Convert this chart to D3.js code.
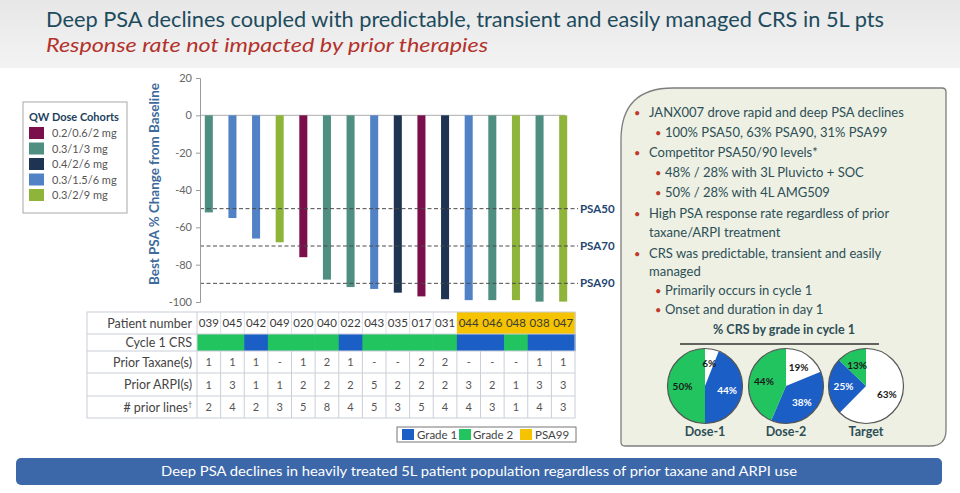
<!DOCTYPE html>
<html><head><meta charset="utf-8">
<script src="https://cdn.jsdelivr.net/npm/d3@7"></script>
<style>
html,body{margin:0;padding:0;background:#fff;}
svg{display:block;font-family:Lato,"Open Sans",sans-serif;}
</style></head>
<body>
<svg id="c" width="960" height="493"></svg>
<script>
// ---------- DATA ----------
const titleText = "Deep PSA declines coupled with predictable, transient and easily managed CRS in 5L pts";
const subtitleText = "Response rate not impacted by prior therapies";
const bannerText = "Deep PSA declines in heavily treated 5L patient population regardless of prior taxane and ARPI use";

const patients = ["039","045","042","049","020","040","022","043","035","017","031","044","046","048","038","047"];
const psaChange = [-52,-55,-66,-68,-76,-88,-92,-93,-95,-97,-98.5,-99,-99,-99,-99.8,-99.8];
const patientCohort = ["0.3/1/3 mg","0.3/1.5/6 mg","0.3/1.5/6 mg","0.3/2/9 mg","0.2/0.6/2 mg","0.3/1/3 mg","0.3/1/3 mg","0.3/1.5/6 mg","0.4/2/6 mg","0.2/0.6/2 mg","0.4/2/6 mg","0.3/1.5/6 mg","0.3/1/3 mg","0.3/2/9 mg","0.3/1/3 mg","0.3/2/9 mg"];
const cohorts = ["0.2/0.6/2 mg","0.3/1/3 mg","0.4/2/6 mg","0.3/1.5/6 mg","0.3/2/9 mg"];
const cohortColors = ["#7a0f4b","#4f8f82","#1f3452","#5282c6","#8eb43a"];
const cycle1CRS = ["Grade 2","Grade 2","Grade 1","Grade 2","Grade 2","Grade 2","Grade 1","Grade 2","Grade 2","Grade 2","Grade 2","Grade 1","Grade 1","Grade 2","Grade 1","Grade 1"];
const psa99 = [false,false,false,false,false,false,false,false,false,false,false,true,true,true,true,true];
const priorTaxane = ["1","1","1","-","1","2","1","-","-","2","2","-","-","-","1","1"];
const priorARPI = ["1","3","1","1","2","2","2","5","2","2","2","3","2","1","3","3"];
const priorLines = ["2","4","2","3","5","8","4","5","3","5","4","4","3","1","4","3"];
const rowLabels = ["Patient number","Cycle 1 CRS","Prior Taxane(s)","Prior ARPI(s)","# prior lines"];
const yTicks = [20,0,-20,-40,-60,-80,-100];
const thresholds = [-50,-70,-90];
const thresholdLabels = ["PSA50","PSA70","PSA90"];
const tableLegend = ["Grade 1","Grade 2","PSA99"];
const tableLegendColors = ["#1b5ec6","#22c460","#f5c300"];

const bullets = [
  {lvl:1, t:"JANX007 drove rapid and deep PSA declines"},
  {lvl:2, t:"100% PSA50, 63% PSA90, 31% PSA99"},
  {lvl:1, t:"Competitor PSA50/90 levels*"},
  {lvl:2, t:"48% / 28% with 3L Pluvicto + SOC"},
  {lvl:2, t:"50% / 28% with 4L AMG509"},
  {lvl:1, t:"High PSA response rate regardless of prior"},
  {lvl:0, t:"taxane/ARPI treatment"},
  {lvl:1, t:"CRS was predictable, transient and easily"},
  {lvl:0, t:"managed"},
  {lvl:2, t:"Primarily occurs in cycle 1"},
  {lvl:2, t:"Onset and duration in day 1"}
];
const bulletY = [112,132,152,172,192,213,232,253,271,290,309];
const pieTitle = "% CRS by grade in cycle 1";
const pieNames = ["Dose-1","Dose-2","Target"];
const pieNone = [6,19,63];
const pieGrade1 = [44,38,25];
const pieGrade2 = [50,44,13];

// ---------- DRAW ----------
const svg = d3.select("#c");
const defs = svg.append("defs");
const hg = defs.append("linearGradient").attr("id","hg").attr("x1",0).attr("y1",0).attr("x2",0).attr("y2",1);
hg.append("stop").attr("offset","0%").attr("stop-color","#e7e7e7");
hg.append("stop").attr("offset","100%").attr("stop-color","#f3f3f3");

svg.append("rect").attr("x",0).attr("y",0).attr("width",960).attr("height",68).attr("fill","url(#hg)");
svg.append("text").attr("x",46).attr("y",27).attr("font-size",22).attr("fill","#1d4b5e")
  .attr("textLength",838).attr("lengthAdjust","spacingAndGlyphs").text(titleText);
svg.append("text").attr("x",46).attr("y",52).attr("font-size",19).attr("font-style","italic").attr("fill","#b3322b")
  .attr("textLength",442).attr("lengthAdjust","spacingAndGlyphs").text(subtitleText);

// Scales
const x = d3.scaleBand().domain(patients).range([197,575]).paddingInner(0.66).paddingOuter(0.33);
const xc = d3.scaleBand().domain(patients).range([197,575]).padding(0);
const y = d3.scaleLinear().domain([-100,20]).range([302,78]);
const cohortColor = d3.scaleOrdinal().domain(cohorts).range(cohortColors);

// zero line
svg.append("line").attr("x1",200).attr("x2",565).attr("y1",y(0)).attr("y2",y(0)).attr("stroke","#bdbdbd").attr("stroke-width",1.2);

// bars
svg.append("g").selectAll("rect").data(patients).join("rect")
  .attr("x",d=>x(d)).attr("width",x.bandwidth())
  .attr("y",y(0)).attr("height",(d,i)=>y(psaChange[i])-y(0))
  .attr("fill",(d,i)=>cohortColor(patientCohort[i]));

// threshold lines
thresholds.forEach((t,i)=>{
  svg.append("line").attr("x1",200).attr("x2",578).attr("y1",y(t)).attr("y2",y(t))
    .attr("stroke","#4a4a4a").attr("stroke-width",1).attr("stroke-dasharray","4,2.5");
  svg.append("text").attr("x",580).attr("y",y(t)+4).attr("font-size",11.5).attr("font-weight","bold")
    .attr("fill","#24456f").text(thresholdLabels[i]);
});

// y axis
const ya = svg.append("g").attr("transform","translate(200,0)")
  .call(d3.axisLeft(y).tickValues(yTicks).tickSize(4).tickPadding(4).tickFormat(d=>String(d)));
ya.select(".domain").attr("stroke","#9a9a9a");
ya.selectAll(".tick line").attr("stroke","#9a9a9a");
ya.selectAll(".tick text").attr("fill","#666").attr("font-size",11).attr("font-family","Lato,sans-serif");
svg.append("text").attr("transform","translate(159,184) rotate(-90)").attr("text-anchor","middle")
  .attr("font-size",13).attr("font-weight","bold").attr("fill","#3e6b9c")
  .attr("textLength",202).attr("lengthAdjust","spacingAndGlyphs").text("Best PSA % Change from Baseline");

// cohort legend
const lg = svg.append("g");
lg.append("rect").attr("x",23).attr("y",102).attr("width",104).attr("height",111).attr("fill","#fff").attr("stroke","#a8a8a8");
lg.append("text").attr("x",29).attr("y",121).attr("font-size",11).attr("font-weight","bold").attr("fill","#1d3f5e").text("QW Dose Cohorts");
cohorts.forEach((c,i)=>{
  lg.append("rect").attr("x",29).attr("y",127+i*15.5).attr("width",15).attr("height",12).attr("fill",cohortColors[i]);
  lg.append("text").attr("x",52).attr("y",137+i*15.5).attr("font-size",11).attr("fill","#555").text(c);
});

// table
const rowTop = [312,334,351,373,396];
const rowBot = [334,351,373,396,418];
const tg = svg.append("g");
tg.selectAll(".hy").data(patients.filter((d,i)=>psa99[i])).join("rect").attr("class","hy")
  .attr("x",d=>xc(d)).attr("width",xc.bandwidth()+0.6).attr("y",rowTop[0]).attr("height",rowBot[0]-rowTop[0]).attr("fill","#f5c300");
tg.selectAll(".crs").data(patients).join("rect").attr("class","crs")
  .attr("x",d=>xc(d)).attr("width",xc.bandwidth()+0.6).attr("y",rowTop[1]).attr("height",rowBot[1]-rowTop[1])
  .attr("fill",(d,i)=>cycle1CRS[i]==="Grade 1"?tableLegendColors[0]:tableLegendColors[1]);
const gridC = "#c9ced8";
rowBot.slice(0,4).forEach(yy=>{
  tg.append("line").attr("x1",87).attr("x2",575).attr("y1",yy).attr("y2",yy).attr("stroke",gridC);
});
patients.forEach((p,i)=>{
  if(i>0) tg.append("line").attr("x1",xc(p)).attr("x2",xc(p)).attr("y1",rowTop[2]).attr("y2",418).attr("stroke",gridC);
  if(i>0 && !psa99[i]) tg.append("line").attr("x1",xc(p)).attr("x2",xc(p)).attr("y1",rowTop[0]).attr("y2",rowBot[0]).attr("stroke",gridC).attr("stroke-opacity",0.6);
});
tg.append("line").attr("x1",197).attr("x2",197).attr("y1",312).attr("y2",418).attr("stroke",gridC);
tg.append("rect").attr("x",87).attr("y",312).attr("width",488).attr("height",106).attr("fill","none").attr("stroke",gridC);
rowLabels.forEach((r,i)=>{
  const t = tg.append("text").attr("x",192).attr("y",(rowTop[i]+rowBot[i])/2+4.5).attr("text-anchor","end")
    .attr("font-size",12.5).attr("fill","#444").text(r);
  if(i===4) t.append("tspan").attr("dy",-5).attr("font-size",7).text("†");
});
const rowsData = [patients, null, priorTaxane, priorARPI, priorLines];
rowsData.forEach((arr,ri)=>{
  if(!arr) return;
  tg.append("g").selectAll("text").data(arr).join("text")
    .attr("x",(d,i)=>xc(patients[i])+xc.bandwidth()/2).attr("y",(rowTop[ri]+rowBot[ri])/2+4)
    .attr("text-anchor","middle").attr("font-size",ri===0?11.5:11).attr("fill",ri===0?"#3a3a3a":"#555").text(d=>d);
});

// table legend
const tl = svg.append("g");
tl.append("rect").attr("x",397).attr("y",427).attr("width",179).attr("height",15).attr("fill","#fff").attr("stroke","#777");
const tlx = [402,459,520], ttx=[417,473,535];
tableLegend.forEach((l,i)=>{
  tl.append("rect").attr("x",tlx[i]).attr("y",429).attr("width",12).attr("height",11).attr("fill",tableLegendColors[i]);
  tl.append("text").attr("x",ttx[i]).attr("y",439).attr("font-size",11.5).attr("fill","#444").text(l);
});

// right panel
const px0=621, py0=88, px1=946, py1=446, R=52, r=16;
const panelPath = `M${px0},${py0+R} Q${px0},${py0} ${px0+R},${py0} L${px1-4},${py0} Q${px1},${py0} ${px1},${py0+4} L${px1},${py1-r} Q${px1},${py1} ${px1-r},${py1} L${px0+4},${py1} Q${px0},${py1} ${px0},${py1-4} Z`;
svg.append("path").attr("d",panelPath).attr("fill","#eef0e3").attr("stroke","#7d7d7d").attr("stroke-width",1.3);

bullets.forEach((b,i)=>{
  const tx = b.lvl===2?665:649;
  if(b.lvl>0){
    svg.append("text").attr("x",b.lvl===2?655:634).attr("y",bulletY[i]+4.5).attr("font-size",11).attr("fill","#c0392b").text("•");
  }
  svg.append("text").attr("x",tx).attr("y",bulletY[i]+4.5).attr("font-size",13).attr("fill","#2c4f57").text(b.t);
});

svg.append("text").attr("x",784).attr("y",334).attr("text-anchor","middle").attr("font-size",12.5).attr("font-weight","bold").attr("fill","#2c4f57").text(pieTitle);
svg.append("line").attr("x1",680).attr("x2",879).attr("y1",344).attr("y2",344).attr("stroke","#333").attr("stroke-width",1.5);

// pies
const pieCx = [705,786,866], pieCy = 386, pieR = 37.5;
const pie = d3.pie().sort(null).value(d=>d.v);
const arc = d3.arc().innerRadius(0).outerRadius(pieR);
const lab = d3.arc().innerRadius(pieR*0.6).outerRadius(pieR*0.6);
const sliceColors = {none:"#ffffff", g1:"#1b5ec6", g2:"#22c460"};
pieNames.forEach((n,k)=>{
  const data = [{k:"none",v:pieNone[k]},{k:"g1",v:pieGrade1[k]},{k:"g2",v:pieGrade2[k]}];
  const g = svg.append("g").attr("transform",`translate(${pieCx[k]},${pieCy})`);
  const arcs = pie(data);
  g.selectAll("path").data(arcs).join("path").attr("d",arc).attr("fill",d=>sliceColors[d.data.k]);
  g.append("circle").attr("r",pieR).attr("fill","none").attr("stroke","#555").attr("stroke-width",1.2);
  g.selectAll("text").data(arcs).join("text")
    .attr("transform",d=>`translate(${lab.centroid(d)})`).attr("dy",3.5).attr("text-anchor","middle")
    .attr("font-size",10).attr("font-weight","bold").attr("fill",d=>d.data.k==="g1"?"#fff":"#1a1a1a")
    .text(d=>d.data.v+"%");
  svg.append("text").attr("x",pieCx[k]).attr("y",436).attr("text-anchor","middle").attr("font-size",12.5)
    .attr("font-weight","bold").attr("fill","#2c4f57").text(n);
});

// banner
svg.append("rect").attr("x",16).attr("y",458).attr("width",926).attr("height",27).attr("rx",5).attr("fill","#3c68a9");
svg.append("text").attr("x",479).attr("y",476).attr("text-anchor","middle").attr("font-size",14).attr("fill","#fff")
  .attr("textLength",636).attr("lengthAdjust","spacingAndGlyphs").text(bannerText);
</script>
</body></html>
